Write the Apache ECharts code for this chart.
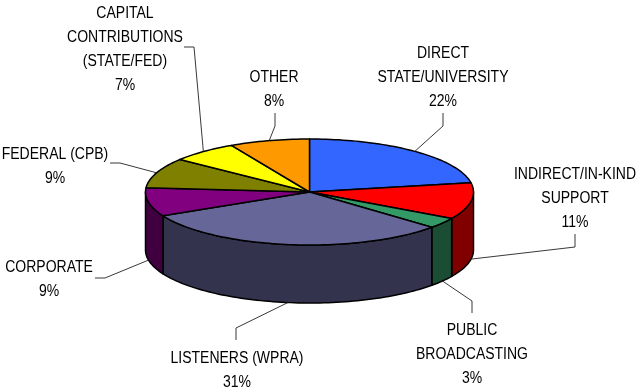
<!DOCTYPE html>
<html>
<head>
<meta charset="utf-8">
<style>html,body{margin:0;padding:0;background:#fff}#c{width:639px;height:388px}</style>
<script src="https://cdn.jsdelivr.net/npm/echarts@6/dist/echarts.min.js"></script>
</head>
<body>
<div id="c"></div>
<script>
var categories = ['DIRECT\nSTATE/UNIVERSITY','INDIRECT/IN-KIND\nSUPPORT','PUBLIC\nBROADCASTING','LISTENERS (WPRA)','CORPORATE','FEDERAL (CPB)','CAPITAL\nCONTRIBUTIONS\n(STATE/FED)','OTHER'];
var shares = [22.2,11.1,3.3,31.0,8.7,9.2,6.6,7.9];
var topColors = ['#3366FF','#FF0000','#339966','#666699','#800080','#808000','#FFFF00','#FF9900'];
var sideColors = ['#1A3380','#800000','#1A4D33','#33334D','#400040','#404000','#808000','#804D00'];
// label block centre [x, y of first line], and leader-line elbow points
var labelPos = [[443,52],[575,173],[472,329],[237,357],[49,266],[55,153],[125,12],[274,76]];
var elbows = [
  [[443,126],[443,113]],
  [[575,247],[575,234]],
  [[472,301],[472,313]],
  [[236,328],[236,340]],
  [[105,278],[95,278]],
  [[120,163],[110,163]],
  [[194,47],[184,47]],
  [[275,126],[275,113]]
];
var cx = 309.5, cy = 192, rx = 164, ry = 53, depth = 58, lh = 24;
var total = shares.reduce(function(a,b){return a+b;},0);
function pt(deg, dy){
  var t = deg*Math.PI/180;
  return [cx+rx*Math.sin(t), cy-ry*Math.cos(t)+(dy||0)];
}
function arc(a,b,dy){
  var out=[], n=Math.max(2,Math.ceil(Math.abs(b-a)/1.5));
  for(var i=0;i<=n;i++) out.push(pt(a+(b-a)*i/n,dy));
  return out;
}
function renderItem(params, api){
  var i = params.dataIndex, v = api.value(0);
  var before = 0;
  for(var k=0;k<i;k++) before += shares[k];
  var a = before/total*360, b = (before+v)/total*360, mid=(a+b)/2;
  var kids = [];
  var sa = Math.max(a,90), sb = Math.min(b,270);
  if(sb>sa){
    var front = arc(sa,sb,0), back = arc(sb,sa,depth);
    kids.push({type:'polygon',shape:{points:front.concat(back)},
      style:{fill:sideColors[i],stroke:'#000',lineWidth:1.5,lineJoin:'round'}});
  }
  kids.push({type:'polygon',shape:{points:[[cx,cy]].concat(arc(a,b,0))},
    style:{fill:topColors[i],stroke:'#000',lineWidth:1.5,lineJoin:'round'}});
  // leader: starts at the rim (lower rim for slices facing the viewer)
  var c = Math.cos(mid*Math.PI/180);
  var start = pt(mid, c<0 ? depth : 0);
  kids.push({type:'polyline',shape:{points:[start].concat(elbows[i])},
    style:{stroke:'#222',lineWidth:0.9,fill:null}});
  kids.push({type:'text',x:labelPos[i][0],y:labelPos[i][1]-lh/2+1.5,scaleX:0.875,style:{
    text:categories[i]+'\n'+Math.round(v)+'%',
    x:0, y:0,
    align:'center', verticalAlign:'top', lineHeight:lh,
    font:'16px "Liberation Sans", Arial, sans-serif', fill:'#000'}});
  return {type:'group',children:kids};
}
var chart = echarts.init(document.getElementById('c'),null,{renderer:'canvas'});
chart.setOption({
  animation:false,
  backgroundColor:'#fff',
  series:[{type:'custom',coordinateSystem:'none',silent:true,renderItem:renderItem,
    data:shares.map(function(v,i){return {value:[v],name:categories[i]};})}]
});
</script>
</body>
</html>
